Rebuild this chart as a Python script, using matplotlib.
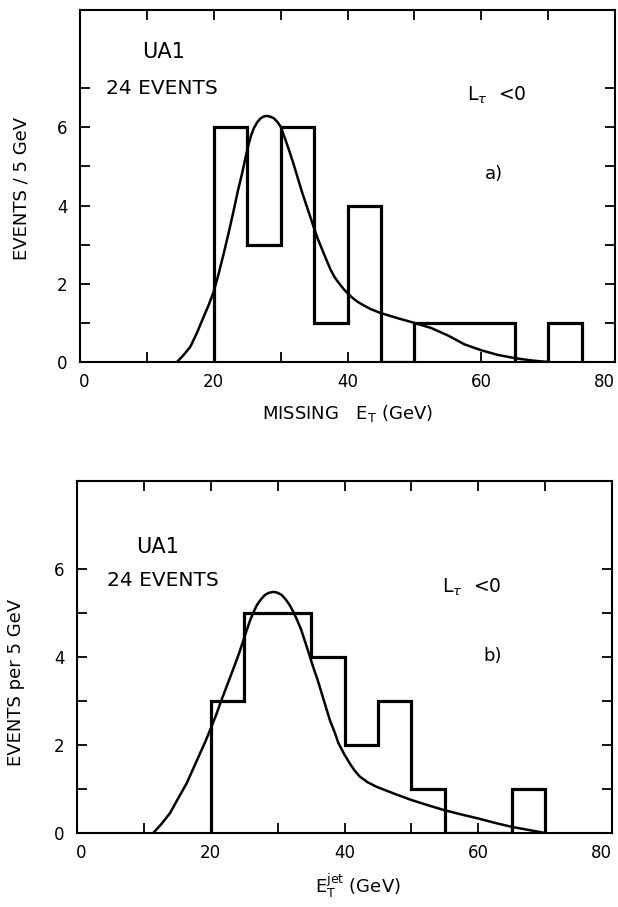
import matplotlib
matplotlib.use("Agg")
import matplotlib.pyplot as plt
import numpy as np
from matplotlib.ticker import FixedLocator
import matplotlib.transforms as mtransforms

plt.rcParams['font.family'] = ['DejaVu Sans']
plt.rcParams['mathtext.fontset'] = 'dejavusans'

# ---------------- data ----------------
# Panel a: missing ET
edges_a = [20, 25, 30, 35, 40, 45, 50, 55, 60, 65, 70, 75]
counts_a = [6, 3, 6, 1, 4, 0, 1, 1, 1, 0, 1]
curve_a_x = [14.5, 15.5, 16.5, 17.5, 18.5, 19.25, 20.0, 20.75, 21.5, 22.25, 23.0, 23.6,
             24.25, 24.75, 25.25, 25.6, 26.0, 26.5, 27.0, 27.5, 28.0, 28.5, 29.0, 29.5,
             30.0, 30.6, 31.25, 31.9, 32.5, 33.1, 33.75, 34.4, 35.0, 35.6, 36.25, 36.9,
             37.5, 38.1, 38.75, 39.4, 40.0, 40.75, 41.5, 42.5, 43.5,
             45.0, 47.5, 50.0, 52.5, 55.0, 57.5, 60.0, 62.5, 65.0, 67.5, 70.0]
curve_a_y = [0.0, 0.18, 0.39, 0.75, 1.16, 1.46, 1.80, 2.27, 2.78, 3.32, 3.89, 4.37,
             4.83, 5.23, 5.59, 5.80, 5.98, 6.13, 6.23, 6.28, 6.29, 6.27, 6.23, 6.14,
             6.02, 5.74, 5.42, 5.08, 4.74, 4.40, 4.06, 3.73, 3.42, 3.13, 2.86, 2.59,
             2.35, 2.16, 2.01, 1.87, 1.76, 1.64, 1.54, 1.44, 1.35,
             1.25, 1.12, 1.00, 0.87, 0.68, 0.45, 0.30, 0.18, 0.10, 0.04, 0.0]

# Panel b: jet ET
edges_b = [20, 25, 30, 35, 40, 45, 50, 55, 60, 65, 70]
counts_b = [3, 5, 5, 4, 2, 3, 1, 0, 0, 1]
curve_b_x = [11.4, 12.6, 13.9, 15.1, 16.4, 17.4, 18.4, 19.2, 19.9, 20.8, 21.6, 22.5,
             23.4, 24.2, 24.9, 25.4, 25.9, 26.4, 26.9, 27.5, 28.1, 28.7, 29.4, 30.0,
             30.6, 31.2, 31.8, 32.3, 32.8, 33.5, 34.1, 34.7, 35.3, 36.0, 36.6, 37.2,
             37.8, 38.5, 39.1, 40.0, 40.8, 41.5, 42.3, 43.5, 44.8,
             47.5, 50.0, 52.5, 54.9, 57.5, 60.0, 62.5, 65.0, 67.5, 70.0]
curve_b_y = [0.0, 0.2, 0.45, 0.78, 1.13, 1.47, 1.81, 2.08, 2.34, 2.68, 3.02, 3.38,
             3.74, 4.07, 4.39, 4.62, 4.84, 5.02, 5.18, 5.31, 5.41, 5.46, 5.48, 5.46,
             5.41, 5.31, 5.18, 5.04, 4.88, 4.63, 4.35, 4.07, 3.78, 3.47, 3.17, 2.87,
             2.57, 2.30, 2.04, 1.78, 1.58, 1.42, 1.28, 1.15, 1.05,
             0.89, 0.75, 0.63, 0.52, 0.42, 0.33, 0.23, 0.14, 0.07, 0.0]

xticks_major = [0, 20, 40, 60, 80]
xticks_minor = [10, 30, 50, 70]
yticks_major = [0, 2, 4, 6]

W, H = 618, 907
fig = plt.figure(figsize=(W / 100, H / 100), dpi=100)

def px_axes(l, r, t, b):
    return [l / W, 1 - b / H, (r - l) / W, (b - t) / H]

ax_a = fig.add_axes(px_axes(80, 615, 10, 362))
ax_b = fig.add_axes(px_axes(77, 612, 481, 833))

def style(ax, ymax, yminor):
    ax.set_xlim(0, 80)
    ax.set_ylim(0, ymax)
    ax.xaxis.set_major_locator(FixedLocator(xticks_major))
    ax.xaxis.set_minor_locator(FixedLocator(xticks_minor))
    ax.yaxis.set_major_locator(FixedLocator(yticks_major))
    ax.yaxis.set_minor_locator(FixedLocator(yminor))
    ax.tick_params(which='both', direction='in', top=True, right=True,
                   length=7, width=1.3, color='black')
    ax.tick_params(axis='x', which='major', labelsize=12, pad=8)
    ax.tick_params(axis='y', which='major', labelsize=12, pad=9)
    for s in ax.spines.values():
        s.set_linewidth(1.5)

style(ax_a, 9, [1, 3, 5, 7])
style(ax_b, 8, [1, 3, 5])

ax_a.stairs(counts_a, edges_a, baseline=0, color='black', linewidth=2.3)
ax_a.plot(curve_a_x, curve_a_y, color='black', linewidth=1.8, solid_capstyle='round')
ax_b.stairs(counts_b, edges_b, baseline=0, color='black', linewidth=2.3)
ax_b.plot(curve_b_x, curve_b_y, color='black', linewidth=1.8, solid_capstyle='round')

fig.canvas.draw()
for ax in (ax_a, ax_b):
    ticks = ax.xaxis.get_major_ticks()
    ticks[-1].label1.set_horizontalalignment('right')
    ticks[0].label1.set_transform(ticks[0].label1.get_transform() +
                                  mtransforms.ScaledTranslation(4 / 100, 0, fig.dpi_scale_trans))

def ftext(x, y, s, **kw):
    fig.text(x / W, 1 - y / H, s, **kw)

# Panel a annotations
ftext(142, 52, "UA1", fontsize=15, va='center', ha='left')
ftext(106, 89, "24 EVENTS", fontsize=14.5, va='center', ha='left')
ftext(467, 95, r"L$_{\tau}$  <0", fontsize=13.5, va='center', ha='left')
ftext(485, 174, "a)", fontsize=13, va='center', ha='left')
ftext(22, 188, "EVENTS / 5 GeV", fontsize=13, va='center', ha='center', rotation=90)
ftext(347, 414, r"MISSING   E$_{\rm T}$ (GeV)", fontsize=13, va='center', ha='center')

# Panel b annotations
ftext(136, 547, "UA1", fontsize=15, va='center', ha='left')
ftext(107, 580, "24 EVENTS", fontsize=14.5, va='center', ha='left')
ftext(442, 587, r"L$_{\tau}$  <0", fontsize=13.5, va='center', ha='left')
ftext(483, 656, "b)", fontsize=13, va='center', ha='left')
ftext(16, 682, "EVENTS per 5 GeV", fontsize=13, va='center', ha='center', rotation=90)
ftext(358, 886, r"E$_{\rm T}^{\rm jet}$ (GeV)", fontsize=13, va='center', ha='center')

fig.savefig("out.png", dpi=100)
